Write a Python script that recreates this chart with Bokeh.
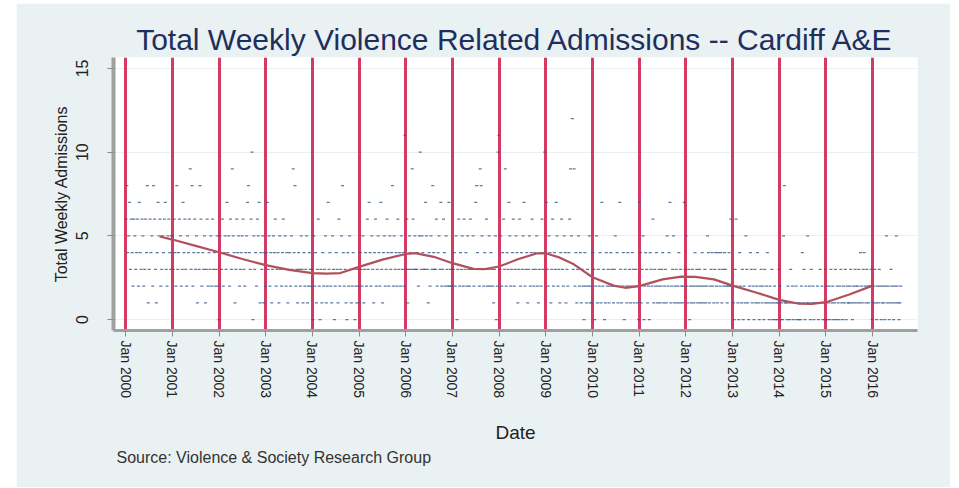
import math
import pandas as pd
from bokeh.plotting import figure
from bokeh.models import Range1d, FixedTicker, Title, Spacer, ColumnDataSource
from bokeh.layouts import row, column
from bokeh.embed import file_html
from bokeh.resources import INLINE

# ---------------- data ----------------
tick_years = list(range(2000, 2017))
tick_labels = ["Jan %d" % y for y in tick_years]
y_ticks = [0, 5, 10, 15]

adm_2000 = [6,8,4,5,7,3,6,4,2,6,5,3,4,6,2,7,4,3,6,5,2,3,6,4,8,1,3,6,4,5,2,8,6,3,1,4,7,5,6,2,3,5,4,6,7,3,2,5,6,4,3,5]
adm_2001 = [5,3,6,4,2,8,3,4,6,5,2,3,7,4,6,3,2,5,4,6,9,3,8,2,4,6,3,5,1,4,3,8,6,2,4,3,5,1,3,6,2,4,3,5,2,6,3,4,2,3,5,2]
adm_2002 = [0,5,4,3,6,2,4,5,3,7,4,5,2,6,3,9,5,4,1,3,6,4,5,2,3,4,5,6,3,2,4,5,7,8,4,3,6,10,0,5,3,4,2,6,5,7,1,4,3,5,1,4]
adm_2003 = [2,4,7,3,5,2,4,1,3,5,4,6,2,3,4,1,5,3,2,4,6,3,5,2,4,1,3,4,2,5,3,9,4,8,2,3,1,4,3,2,5,3,1,4,2,3,5,1,2,4,3,2]
adm_2004 = [3,0,5,2,4,1,3,6,2,0,3,1,4,2,3,5,1,2,7,3,4,2,1,5,3,0,2,4,3,1,6,2,3,5,8,4,2,3,1,0,4,2,5,3,1,2,4,3,0,2,1,3]
adm_2005 = [2,1,4,3,2,5,1,3,4,2,6,3,7,4,2,5,3,1,4,6,2,3,5,4,2,7,3,1,4,5,2,3,6,4,2,5,3,4,8,2,5,3,4,2,6,3,4,2,5,3,4,2]
adm_2006 = [11,3,6,1,3,5,4,3,9,6,3,5,3,3,4,2,5,10,3,5,4,3,3,7,5,3,1,4,2,5,3,8,4,3,3,6,2,4,5,3,7,2,3,6,4,2,5,3,2,7,2,3]
adm_2007 = [2,3,3,4,2,5,0,3,6,2,4,3,5,2,6,3,4,2,5,3,2,6,3,3,5,2,3,7,8,4,3,2,9,8,5,3,2,4,3,6,2,3,5,2,4,3,2,1,3,5,0,2]
adm_2008 = [10,11,3,5,2,4,6,3,9,2,4,3,7,5,2,3,4,6,2,3,5,4,1,3,6,2,4,3,5,7,2,3,4,1,3,5,2,4,6,3,2,4,3,5,2,1,3,4,2,6,3,4]
adm_2009 = [10,4,7,3,2,5,4,1,3,6,2,4,3,7,5,2,3,1,4,6,3,2,5,4,1,3,2,4,6,9,5,12,3,9,2,4,1,3,5,2,4,1,3,2,0,4,2,1,3,2,5,1]
adm_2010 = [2,1,4,3,0,2,5,1,3,2,4,1,7,2,3,0,1,4,2,3,1,2,4,3,2,1,3,5,2,4,1,2,7,3,1,2,4,0,3,2,1,4,2,3,1,2,4,3,1,2,3,2]
adm_2011 = [1,0,7,4,1,3,5,0,2,4,3,1,2,0,4,3,2,6,1,3,2,4,1,2,3,1,2,3,4,1,2,3,1,5,2,4,7,1,2,3,5,1,2,3,1,2,4,1,3,2,1,2]
adm_2012 = [7,3,5,2,1,3,0,2,1,3,2,1,4,2,3,1,2,3,1,2,4,1,2,3,1,2,5,4,1,2,3,4,2,1,3,4,2,1,4,3,2,4,1,3,2,4,3,2,1,2,4,2]
adm_2013 = [6,2,5,1,0,3,6,2,1,0,4,2,1,3,0,2,1,5,3,1,0,2,4,3,1,2,0,3,1,2,4,1,0,2,3,1,2,0,3,1,2,4,1,0,2,1,3,0,1,2,0,1]
adm_2014 = [0,1,3,2,0,1,0,5,8,1,1,0,2,1,0,3,1,2,0,1,1,2,0,1,0,1,0,2,4,1,3,0,2,1,5,1,2,0,3,1,2,0,1,1,1,2,0,1,3,1,2,0]
adm_2015 = [1,0,3,2,0,1,2,0,3,1,2,0,1,3,0,2,1,0,2,3,1,0,2,1,3,0,2,1,1,2,3,1,0,2,1,3,2,1,2,3,1,4,2,1,3,4,2,1,3,2,1,2]
adm_2016 = [2,3,0,1,2,3,1,0,2,1,3,2,0,1,2,1,0,2,5,1,2,0,1,3,2,1,0,2,1,5,2,1,0,1,2]

# smoothed trend (decimal year, admissions)
smooth_x = [2000.73, 2001.0, 2001.5, 2002.0, 2002.5, 2003.0, 2003.5, 2004.0, 2004.3, 2004.6,
            2005.0, 2005.5, 2006.0, 2006.2, 2006.6, 2007.0, 2007.45, 2007.7, 2008.0, 2008.4,
            2008.8, 2009.0, 2009.3, 2009.6, 2010.0, 2010.45, 2010.7, 2011.0, 2011.5, 2011.9,
            2012.2, 2012.6, 2013.0, 2013.5, 2014.0, 2014.4, 2014.7, 2015.0, 2015.5, 2016.0]
smooth_y = [4.96, 4.78, 4.40, 4.02, 3.62, 3.25, 2.97, 2.78, 2.75, 2.78,
            3.15, 3.58, 3.92, 3.97, 3.75, 3.37, 3.03, 3.02, 3.17, 3.60,
            3.95, 3.96, 3.70, 3.30, 2.53, 2.03, 1.90, 2.00, 2.40, 2.57,
            2.55, 2.40, 2.03, 1.62, 1.18, 0.96, 0.94, 1.04, 1.50, 2.03]

weekly = (adm_2000 + adm_2001 + adm_2002 + adm_2003 + adm_2004 + adm_2005 + adm_2006 +
          adm_2007 + adm_2008 + adm_2009 + adm_2010 + adm_2011 + adm_2012 + adm_2013 +
          adm_2014 + adm_2015 + adm_2016)
dates = pd.date_range("2000-01-03", periods=len(weekly), freq="7D")
dec_year = list(dates.year + (dates.dayofyear - 1) / 365.25)

src = ColumnDataSource(dict(x=dec_year, y=weekly))

# ---------------- figure ----------------
FONT = "Liberation Sans"
p = figure(width=934, height=484, output_backend="svg", toolbar_location=None,
           x_range=Range1d(1999.74, 2016.96), y_range=Range1d(-0.65, 15.65),
           min_border_left=97, min_border_right=33, min_border_top=54, min_border_bottom=157,
           background_fill_color="white", border_fill_color="#e9f1f3",
           outline_line_color=None)

p.title.text = "Total Weekly Violence Related Admissions -- Cardiff A&E"
p.title.align = "center"
p.title.text_font = FONT
p.title.text_font_size = "30px"
p.title.text_font_style = "normal"
p.title.text_color = "#1e2f5e"
p.title.standoff = 3

p.xgrid.visible = False
p.ygrid.ticker = FixedTicker(ticks=y_ticks)
p.ygrid.grid_line_color = "#e8f0f3"
p.ygrid.grid_line_width = 1

p.vspan(x=tick_years, line_color="#d43a62", line_width=3)

p.scatter("x", "y", source=src, marker="dash", size=3, line_width=1.2,
          line_color="#34588a", line_alpha=0.8)

p.line(smooth_x, smooth_y, line_color="#b3505d", line_width=2.2)

# axes
xa = p.xaxis[0]
xa.ticker = FixedTicker(ticks=tick_years)
xa.major_label_overrides = {y: lab for y, lab in zip(tick_years, tick_labels)}
xa.major_label_orientation = -math.pi / 2
xa.major_label_text_font = FONT
xa.major_label_text_font_size = "14px"
xa.major_label_text_color = "#222222"
xa.major_label_standoff = 4
xa.minor_tick_line_color = None
xa.major_tick_out = 6
xa.major_tick_in = 0
xa.major_tick_line_color = "#8a8a8a"
xa.axis_line_color = "#a0a0a0"
xa.axis_line_width = 3
xa.axis_label = "Date"
xa.axis_label_text_font = FONT
xa.axis_label_text_font_size = "19px"
xa.axis_label_text_font_style = "normal"
xa.axis_label_text_color = "#222222"
xa.axis_label_standoff = 21

ya = p.yaxis[0]
ya.ticker = FixedTicker(ticks=y_ticks)
ya.major_label_orientation = "vertical"
ya.major_label_text_font = FONT
ya.major_label_text_font_size = "16px"
ya.major_label_text_color = "#222222"
ya.major_label_standoff = 19
ya.minor_tick_line_color = None
ya.major_tick_out = 6
ya.major_tick_in = 0
ya.major_tick_line_color = "#8a8a8a"
ya.axis_line_color = "#a0a0a0"
ya.axis_line_width = 4
ya.axis_label = "Total Weekly Admissions"
ya.axis_label_text_font = FONT
ya.axis_label_text_font_size = "16px"
ya.axis_label_text_font_style = "normal"
ya.axis_label_text_color = "#222222"
ya.axis_label_standoff = 4

source_note = Title(text="Source: Violence & Society Research Group", align="left",
                    text_font=FONT, text_font_size="16px", text_font_style="normal",
                    text_color="#333333", standoff=0, offset=3)
p.add_layout(source_note, "below")

layout = column(Spacer(width=950, height=3), row(Spacer(width=16, height=484), p))
open("out.html", "w").write(file_html(layout, INLINE))
